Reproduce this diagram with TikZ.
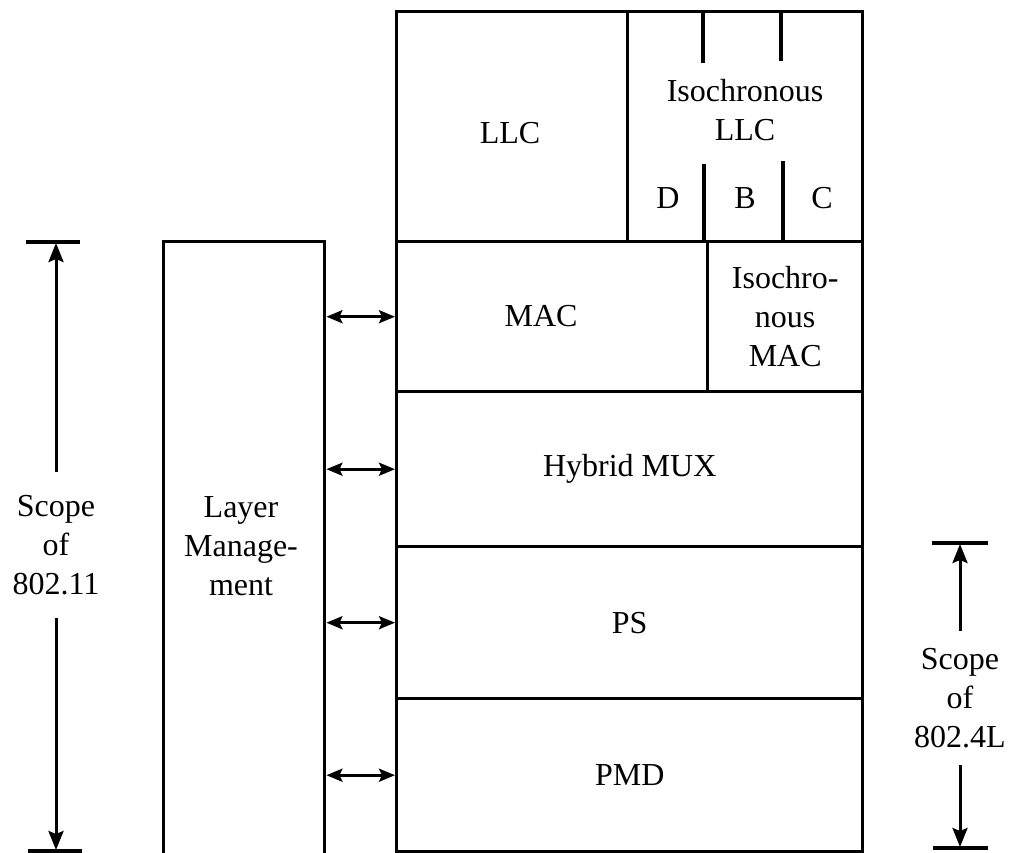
\documentclass[tikz,border=0pt]{standalone}
\usepackage{fontspec}
\setmainfont{Liberation Serif}
\usetikzlibrary{arrows.meta}
\begin{document}
\begin{tikzpicture}[x=1pt,y=-1pt,
  box/.style={draw, line width=3.4pt, inner sep=0pt, align=center, font=\fontsize{32}{39}\selectfont},
  lbl/.style={inner sep=0pt, align=center, font=\fontsize{32}{39}\selectfont},
  thick line/.style={line width=3.2pt},
  dbl/.style={line width=3pt, {Stealth[length=16pt,width=13pt,inset=3pt]}-{Stealth[length=16pt,width=13pt,inset=3pt]}},
  scopearrow/.style={line width=3pt, -{Stealth[length=19pt,width=15pt,inset=3pt]}},
]
\useasboundingbox (0,0) rectangle (1016,852);
\clip (0,0) rectangle (1016,852);

% protocol stack
\node[box, minimum width=231pt, minimum height=230pt, anchor=north west] (llc) at (395,10) {};
\node[lbl] at (510,133) {LLC};
\node[box, minimum width=235pt, minimum height=230pt, anchor=north west] (illc) at (626,10) {};
\node[lbl] at (745,110) {Isochronous\\LLC};
\node[box, minimum width=311pt, minimum height=150pt, anchor=north west] (mac) at (395,240) {};
\node[lbl] at (541,316) {MAC};
\node[box, minimum width=155pt, minimum height=150pt, anchor=north west] (imac) at (706,240) {Isochro-\\nous\\MAC};
\node[box, minimum width=466pt, minimum height=155pt, anchor=north west] (mux) at (395,390) {Hybrid MUX};
\node[box, minimum width=466pt, minimum height=152pt, anchor=north west] (ps) at (395,545) {PS};
\node[box, minimum width=466pt, minimum height=153pt, anchor=north west] (pmd) at (395,697) {PMD};

% isochronous LLC subdivisions
\draw[thick line] (703,10) -- (703,63);
\draw[thick line] (781,10) -- (781,61);
\draw[thick line] (704,164) -- (704,240);
\draw[thick line] (783,161) -- (783,240);
\node[lbl] (d) at (668,198) {D};
\node[lbl] (b) at (745,198) {B};
\node[lbl] (c) at (822,198) {C};

% layer management
\node[box, minimum width=161pt, minimum height=640pt, anchor=north west] (lm) at (162,240) {};
\node[lbl] at (241,546) {Layer\\Manage-\\ment};

\draw[dbl] (lm.east |- mac.west) -- (mac.west);
\draw[dbl] (lm.east |- mux.west) -- (mux.west);
\draw[dbl] (lm.east |- ps.west) -- (ps.west);
\draw[dbl] (lm.east |- pmd.west) -- (pmd.west);

% scope of 802.11
\node[lbl, inner ysep=23pt] (s11) at (56,545) {Scope\\of\\802.11};
\coordinate (s11top) at (56,243);
\coordinate (s11bot) at (56,850);
\draw[thick line] (26,242) -- (80,242);
\draw[thick line] (28,851) -- (82,851);
\draw[scopearrow] (s11.north) -- (s11top);
\draw[scopearrow] (s11.south) -- (s11bot);

% scope of 802.4L
\node[lbl, inner ysep=17pt] (s4) at (960,698) {Scope\\of\\802.4L};
\coordinate (s4top) at (960,544);
\coordinate (s4bot) at (960,847);
\draw[thick line] (932,543) -- (988,543);
\draw[thick line] (933,848) -- (988,848);
\draw[scopearrow] (s4.north) -- (s4top);
\draw[scopearrow] (s4.south) -- (s4bot);
\end{tikzpicture}
\end{document}
